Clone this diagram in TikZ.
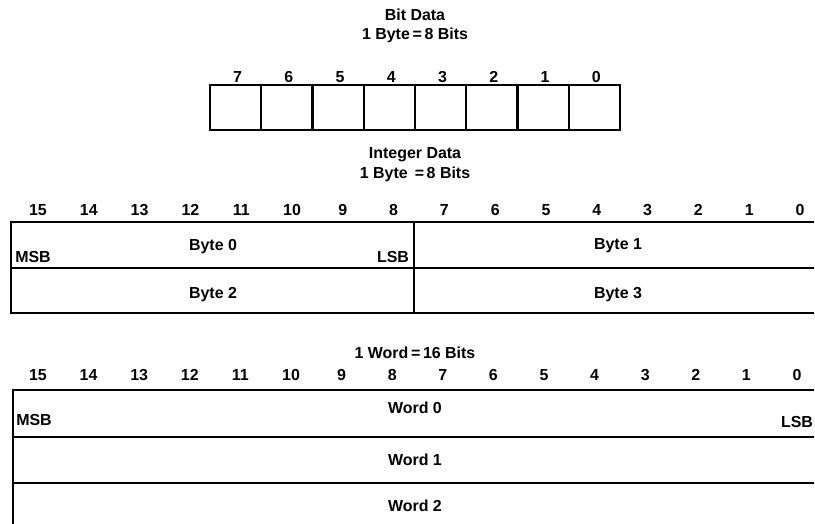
\documentclass[tikz,border=0pt]{standalone}
\usepackage{fontspec}
\setmainfont{Liberation Sans}
\begin{document}
\begin{tikzpicture}[x=1bp,y=-1bp,
  every node/.style={font=\fontsize{16}{19}\selectfont\bfseries, inner sep=0pt, anchor=center},
  rule/.style={line width=2.1pt, line cap=rect},
  cell/.style={draw, line width=2.1pt, minimum width=51.25bp, minimum height=45bp, inner sep=0pt}]
\useasboundingbox (0,0) rectangle (815,524);
% ---- Bit data ----
\node (bittitle) at (415,15) {Bit Data};
\node (bitsize) at (415,35) {1 Byte\,=\,8 Bits};
\foreach \i in {0,...,7}{
  \pgfmathsetmacro{\cx}{210+51.25*(7-\i)+25.625}
  \node[cell] (bc\i) at (\cx,107.5) {};
  \node (bl\i) at (\cx+2,77) {\i};
}
% ---- Integer data ----
\node (inttitle) at (415,155) {Integer Data};
\node (intsize) at (415,174) {1 Byte \,=\,8 Bits};
\foreach \i in {0,...,15}{
  \pgfmathsetmacro{\cx}{38+50.8*(15-\i)}
  \node (il\i) at (\cx,210) {\i};
}
\coordinate (iTL) at (11,222);
\coordinate (iTR) at (813,222);
\coordinate (iML) at (11,268);
\coordinate (iMR) at (813,268);
\coordinate (iBL) at (11,313);
\coordinate (iBR) at (813,313);
\coordinate (iDT) at (414,222);
\coordinate (iDB) at (414,313);
\draw[rule] (iTL) -- (iTR);
\draw[rule] (iML) -- (iMR);
\draw[rule] (iBL) -- (iBR);
\draw[rule] (iTL) -- (iBL);
\draw[rule] (iDT) -- (iDB);
\node (byte0) at (213,247) {Byte 0};
\node (imsb) at (33,257) {MSB};
\node (ilsb) at (393,257) {LSB};
\node (byte1) at (618,246) {Byte 1};
\node (byte2) at (213,295) {Byte 2};
\node (byte3) at (618,295) {Byte 3};
% ---- Word data ----
\node (wordsize) at (415,353) {1 Word\,=\,16 Bits};
\foreach \i in {0,...,15}{
  \pgfmathsetmacro{\cx}{38+50.6*(15-\i)}
  \node (wl\i) at (\cx,375) {\i};
}
\coordinate (wTL) at (13,390);
\coordinate (wTR) at (813,390);
\coordinate (w1L) at (13,437);
\coordinate (w1R) at (813,437);
\coordinate (w2L) at (13,483);
\coordinate (w2R) at (813,483);
\coordinate (wBL) at (13,524);
\draw[rule] (wTL) -- (wTR);
\draw[rule] (w1L) -- (w1R);
\draw[rule] (w2L) -- (w2R);
\draw[rule] (wTL) -- (wBL);
\node (word0) at (415,408) {Word 0};
\node (wmsb) at (34,420) {MSB};
\node (wlsb) at (797,422) {LSB};
\node (word1) at (415,460) {Word 1};
\node (word2) at (415,506) {Word 2};
\end{tikzpicture}
\end{document}
